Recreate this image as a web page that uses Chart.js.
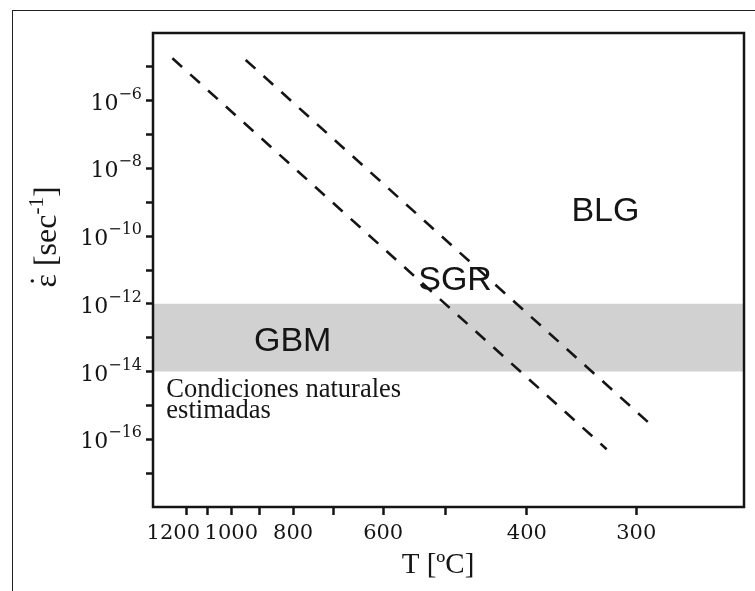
<!DOCTYPE html>
<html>
<head>
<meta charset="utf-8">
<script src="https://cdn.jsdelivr.net/npm/chart.js@4.4.0/dist/chart.umd.min.js"></script>
<style>
  html, body { margin: 0; padding: 0; background: #fff; }
  #wrap { position: relative; width: 755px; height: 591px; overflow: hidden; }
  #wrap canvas { position: absolute; left: 0; top: 0; }
  #frame { position: absolute; left: 12px; top: 10px; right: -2px; bottom: -2px; border-left: 1.5px solid #222; border-top: 1.5px solid #222; pointer-events: none; }
</style>
</head>
<body>
<div id="wrap"><canvas id="chart" width="755" height="591"></canvas><div id="frame"></div></div>
<script>
// Strain rate vs temperature (1000/T scale) — recrystallization regimes

// x axis: temperature ticks in ºC (plotted as 1000/T in Kelvin)
var xTickTemps = [1200, 1100, 1000, 900, 800, 700, 600, 500, 400, 300];
var xTickLabels = ['1200', '', '1000', '', '800', '', '600', '', '400', '300'];
var xMin = 0.6, xMax = 2.0;

// y axis: decades of strain rate
var yTickExps = [-5, -6, -7, -8, -9, -10, -11, -12, -13, -14, -15, -16, -17];
var yLabelExps = [-6, -8, -10, -12, -14, -16];
var yMin = 1e-18, yMax = 1e-4;

// dashed boundaries (end points)
var lowerTemps = [1275, 324];
var lowerRates = [1.79e-5, 5.1e-17];
var upperTemps = [947, 288];
var upperRates = [1.6e-5, 2.52e-16];

// natural strain rate band (GBM)
var bandRates = [1e-12, 1e-14];

// region labels
var notes = [
  { text: 'BLG', temp: 325, rate: 2.8e-10 },
  { text: 'SGR', temp: 487, rate: 2.57e-12 },
  { text: 'GBM', temp: 801, rate: 4.07e-14 }
];
var natText = ['Condiciones naturales', 'estimadas'];
var natTemp = 1310, natRate = 1.78e-15;

function inv(t) { return 1000 / (t + 273.15); }
function pts(temps, rates) {
  return temps.map(function(t, i) { return { x: inv(t), y: rates[i] }; });
}

var ink = '#151515';
var serif = '"Liberation Serif", "Times New Roman", serif';
var tickSerif = '"DejaVu Serif", serif';
var sans = '"Liberation Sans", Arial, sans-serif';
var firstLabelShift = -13; // the 1200 label sits left of its tick so it clears 1000

// draws a run of text pieces (normal / superscript) as one line
function drawRich(ctx, parts, x, y, align) {
  var total = 0;
  parts.forEach(function(p) {
    ctx.font = p.font;
    p.w = p.over ? 0 : ctx.measureText(p.t).width;
    total += p.w;
  });
  var cx = align === 'right' ? x - total : (align === 'center' ? x - total / 2 : x);
  var prev = 0;
  ctx.textBaseline = 'alphabetic';
  parts.forEach(function(p) {
    ctx.font = p.font;
    if (p.over) {
      ctx.textAlign = 'center';
      ctx.fillText(p.t, cx - prev / 2, y + (p.dy || 0));
    } else {
      ctx.textAlign = 'left';
      ctx.fillText(p.t, cx, y + (p.dy || 0));
      prev = p.w;
      cx += p.w;
    }
  });
}

var decor = {
  id: 'decor',
  afterDatasetsDraw: function(chart) {
    var ctx = chart.ctx, a = chart.chartArea;
    var xs = chart.scales.x, ys = chart.scales.y;
    ctx.save();
    ctx.fillStyle = ink;

    // region labels
    ctx.font = '34px ' + sans;
    ctx.textAlign = 'center';
    ctx.textBaseline = 'alphabetic';
    notes.forEach(function(n) {
      ctx.fillText(n.text, xs.getPixelForValue(inv(n.temp)), ys.getPixelForValue(n.rate));
    });

    ctx.font = '26.5px ' + serif;
    ctx.textAlign = 'left';
    var nx = xs.getPixelForValue(inv(natTemp)), ny = ys.getPixelForValue(natRate);
    natText.forEach(function(s, i) { ctx.fillText(s, nx, ny + i * 21); });

    // plot frame
    ctx.strokeStyle = ink;
    ctx.lineWidth = 2.5;
    ctx.strokeRect(a.left, a.top, a.right - a.left, a.bottom - a.top);

    // x tick labels
    ctx.font = '21px ' + tickSerif;
    ctx.textAlign = 'center';
    xTickTemps.forEach(function(t, i) {
      if (!xTickLabels[i]) return;
      var px = xs.getPixelForValue(inv(t)) + (i === 0 ? firstLabelShift : 0);
      ctx.fillText(xTickLabels[i], px, a.bottom + 32);
    });

    // y tick labels with superscripts
    yLabelExps.forEach(function(e) {
      var py = ys.getPixelForValue(Math.pow(10, e));
      drawRich(ctx, [
        { t: '10', font: '22px ' + tickSerif, dy: 9 },
        { t: '\u2212' + (-e), font: '16px ' + tickSerif, dy: -2 }
      ], a.left - 11, py, 'right');
    });

    // axis titles
    drawRich(ctx, [{ t: 'T [ºC]', font: '29px ' + serif }], 438, 573, 'center');

    ctx.translate(56, 237);
    ctx.rotate(-Math.PI / 2);
    drawRich(ctx, [
      { t: 'ε', font: '32px ' + serif },
      { t: '˙', font: '32px ' + serif, over: true, dy: -4 },
      { t: ' [sec', font: '32px ' + serif },
      { t: '-1', font: '21px ' + serif, dy: -13 },
      { t: ']', font: '32px ' + serif }
    ], 0, 0, 'center');
    ctx.restore();
  }
};

var lineStyle = {
  borderColor: ink, borderWidth: 2.6, borderDash: [13, 11],
  pointRadius: 0, fill: false, tension: 0
};

new Chart(document.getElementById('chart'), {
  type: 'scatter',
  data: {
    datasets: [
      Object.assign({ label: 'lower', data: pts(lowerTemps, lowerRates), showLine: true }, lineStyle),
      Object.assign({ label: 'upper', data: pts(upperTemps, upperRates), showLine: true }, lineStyle),
      {
        label: 'band', showLine: true, pointRadius: 0, borderWidth: 0,
        data: [{ x: xMin, y: bandRates[0] }, { x: xMax, y: bandRates[0] }],
        backgroundColor: '#d1d1d1', fill: '+1'
      },
      {
        label: 'band-low', showLine: true, pointRadius: 0, borderWidth: 0,
        data: [{ x: xMin, y: bandRates[1] }, { x: xMax, y: bandRates[1] }],
        fill: false
      }
    ]
  },
  options: {
    responsive: false, animation: false,
    layout: { padding: { left: 0, top: 33, right: 11, bottom: 0 } },
    plugins: { legend: { display: false }, tooltip: { enabled: false } },
    scales: {
      x: {
        type: 'linear', min: xMin, max: xMax,
        afterFit: function(s) { s.height = 84; },
        afterBuildTicks: function(s) { s.ticks = xTickTemps.map(function(t) { return { value: inv(t) }; }); },
        border: { display: false },
        grid: { drawOnChartArea: false, drawTicks: true, tickLength: 8, tickWidth: 2.5, tickColor: ink },
        ticks: { autoSkip: false, maxRotation: 0, callback: function() { return ''; } }
      },
      y: {
        type: 'logarithmic', min: yMin, max: yMax,
        afterFit: function(s) { s.width = 153; },
        afterBuildTicks: function(s) { s.ticks = yTickExps.map(function(e) { return { value: Math.pow(10, e) }; }); },
        border: { display: false },
        grid: { drawOnChartArea: false, drawTicks: true, tickLength: 7, tickWidth: 2.5, tickColor: ink },
        ticks: { autoSkip: false, callback: function() { return ''; } }
      }
    }
  },
  plugins: [decor]
});
</script>
</body>
</html>
